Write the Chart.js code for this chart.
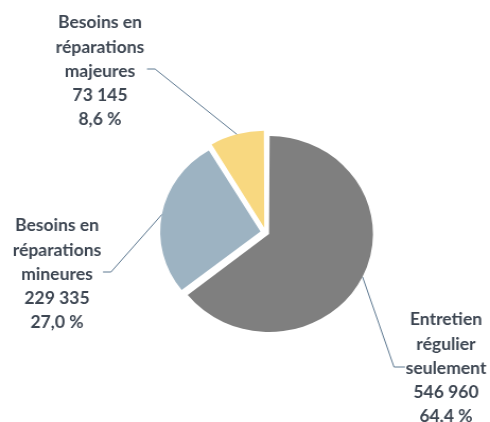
<!DOCTYPE html>
<html>
<head>
<meta charset="utf-8">
<script src="https://cdn.jsdelivr.net/npm/chart.js@4.4.0/dist/chart.umd.min.js"></script>
<style>
  html, body { margin: 0; padding: 0; background: #fff; overflow: hidden; }
  /* the original picture is a little wider than tall, so stretch the drawing */
  #wrap { width: 462px; height: 422px; transform: scaleX(1.0606); transform-origin: 0 0; }
</style>
</head>
<body>
<div id="wrap"><canvas id="ctx-pie"></canvas></div>
<script>
const SX = 490 / 462;

const categories = [
  ['Entretien', 'régulier', 'seulement'],
  ['Besoins en', 'réparations', 'mineures'],
  ['Besoins en', 'réparations', 'majeures']
];
const values = [546960, 229335, 73145];
const valueLabels = ['546 960', '229 335', '73 145'];
const pctLabels = ['64,4 %', '27,0 %', '8,6 %'];

const colors = ['#7f7f7f', '#9db3c2', '#f8d880'];
const offsets = [14, 20, 20];
// label block centre x / first line y, and where the leader line ends (page pixels)
const labelPos = [
  { x: 446, y: 320, lx: 405, ly: 367, side: 'right' },
  { x: 57, y: 226, lx: 103, ly: 272, side: 'left' },
  { x: 100, y: 23, lx: 147, ly: 69, side: 'left' }
];

const leaderLabels = {
  id: 'leaderLabels',
  afterDatasetsDraw(chart) {
    const c = chart.ctx;
    const arcs = chart.getDatasetMeta(0).data;
    c.save();
    arcs.forEach((arc, i) => {
      const p = arc.getProps(['x', 'y', 'startAngle', 'endAngle', 'outerRadius', 'circumference']);
      const off = offsets[i] / 4;
      const mid = (p.startAngle + p.endAngle) / 2;
      const fix = 1 - Math.sin(Math.min(Math.PI, p.circumference));
      const r = p.outerRadius + off * fix;
      const ax = p.x + Math.cos(mid) * (off + r);
      const ay = p.y + Math.sin(mid) * (off + r);
      const lp = labelPos[i];
      const lx = lp.lx / SX;
      const kx = lp.side === 'right' ? lx - 11 / SX : lx + 8 / SX;
      c.strokeStyle = '#5d7890';
      c.lineWidth = 1;
      c.beginPath();
      c.moveTo(ax, ay);
      c.lineTo(kx, lp.ly);
      c.lineTo(lx, lp.ly);
      c.stroke();

      const lines = categories[i].concat([valueLabels[i], pctLabels[i]]);
      c.fillStyle = '#3d4652';
      c.font = 'bold 16.5px Lato';
      c.textAlign = 'center';
      c.textBaseline = 'middle';
      lines.forEach((t, j) => c.fillText(t, lp.x / SX, lp.y + j * 24.2));
    });
    c.restore();
  }
};

new Chart(document.getElementById('ctx-pie'), {
  type: 'pie',
  data: {
    labels: categories.map(c => c.join(' ')),
    datasets: [{
      data: values,
      backgroundColor: colors,
      borderWidth: 0,
      offset: offsets
    }]
  },
  options: {
    responsive: true,
    maintainAspectRatio: false,
    animation: false,
    radius: 94.5,
    layout: { padding: { left: 39, right: 0, top: 43, bottom: 0 } },
    plugins: { legend: { display: false }, tooltip: { enabled: false } }
  },
  plugins: [leaderLabels]
});
</script>
</body>
</html>
